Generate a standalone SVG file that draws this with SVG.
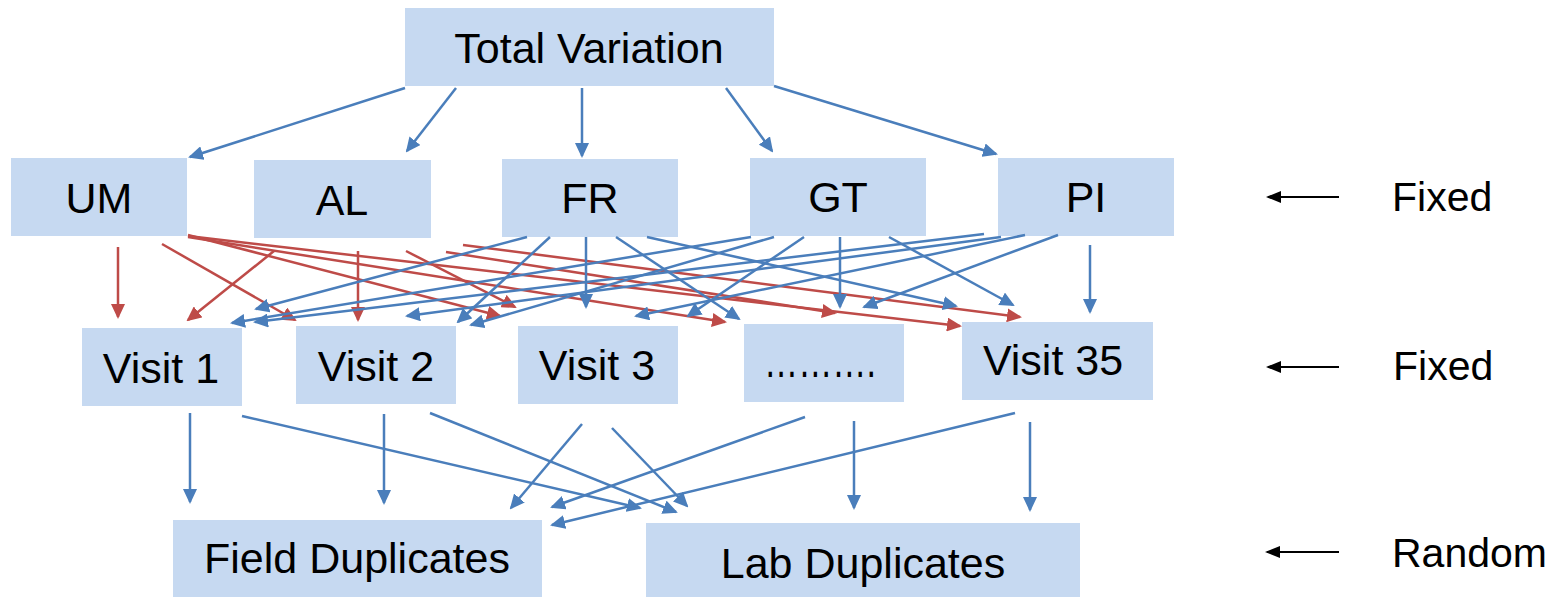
<svg xmlns="http://www.w3.org/2000/svg" width="1564" height="597" viewBox="0 0 1564 597">
  <defs>
    <style>
      .box { fill: #C6D9F1; }
      .lbl { font-family: "Liberation Sans", Arial, sans-serif; font-size: 43px; fill: #000; text-anchor: middle; }
      .dots { font-size: 50px; }
      .side { font-family: "Liberation Sans", Arial, sans-serif; font-size: 41px; fill: #000; }
      .blue { stroke: #4A7EBB; stroke-width: 2.5; fill: none; marker-end: url(#headBlue); }
      .red { stroke: #BE4B48; stroke-width: 2.5; fill: none; marker-end: url(#headRed); }
      .black { stroke: #000; stroke-width: 2; fill: none; marker-end: url(#headBlack); }
    </style>
    <marker id="headBlue" markerUnits="userSpaceOnUse" viewBox="0 0 15 14" markerWidth="15" markerHeight="14" refX="13" refY="7" orient="auto">
      <path d="M0,0 L15,7 L0,14 z" fill="#4A7EBB"/>
    </marker>
    <marker id="headRed" markerUnits="userSpaceOnUse" viewBox="0 0 15 14" markerWidth="15" markerHeight="14" refX="13" refY="7" orient="auto">
      <path d="M0,0 L15,7 L0,14 z" fill="#BE4B48"/>
    </marker>
    <marker id="headBlack" markerUnits="userSpaceOnUse" viewBox="0 0 15 12" markerWidth="15" markerHeight="12" refX="13" refY="6" orient="auto">
      <path d="M0,0 L15,6 L0,12 z" fill="#000"/>
    </marker>
  </defs>

  <rect width="1564" height="597" fill="#FFFFFF"/>

  <!-- top level -->
  <g id="total-variation">
    <rect class="box" x="405" y="8" width="369" height="78"/>
    <text class="lbl" x="589" y="63">Total Variation</text>
  </g>

  <!-- factor level -->
  <g id="um">
    <rect class="box" x="11" y="158" width="176" height="78"/>
    <text class="lbl" x="99" y="213">UM</text>
  </g>
  <g id="al">
    <rect class="box" x="254" y="160" width="177" height="78"/>
    <text class="lbl" x="342" y="215">AL</text>
  </g>
  <g id="fr">
    <rect class="box" x="502" y="159" width="176" height="78"/>
    <text class="lbl" x="590" y="213">FR</text>
  </g>
  <g id="gt">
    <rect class="box" x="750" y="158" width="176" height="78"/>
    <text class="lbl" x="838" y="212">GT</text>
  </g>
  <g id="pi">
    <rect class="box" x="998" y="158" width="176" height="78"/>
    <text class="lbl" x="1086" y="212">PI</text>
  </g>

  <!-- visit level -->
  <g id="visit-1">
    <rect class="box" x="82" y="328" width="160" height="78"/>
    <text class="lbl" x="161" y="383">Visit 1</text>
  </g>
  <g id="visit-2">
    <rect class="box" x="296" y="326" width="160" height="78"/>
    <text class="lbl" x="376" y="381">Visit 2</text>
  </g>
  <g id="visit-3">
    <rect class="box" x="518" y="326" width="160" height="78"/>
    <text class="lbl" x="597" y="380">Visit 3</text>
  </g>
  <g id="visit-more">
    <rect class="box" x="744" y="324" width="160" height="78"/>
    <text class="lbl dots" x="820" y="377" textLength="112" lengthAdjust="spacingAndGlyphs">……….</text>
  </g>
  <g id="visit-35">
    <rect class="box" x="962" y="322" width="191" height="78"/>
    <text class="lbl" x="1053" y="375">Visit 35</text>
  </g>

  <!-- duplicate level -->
  <g id="field-duplicates">
    <rect class="box" x="173" y="520" width="369" height="78"/>
    <text class="lbl" x="357" y="573">Field Duplicates</text>
  </g>
  <g id="lab-duplicates">
    <rect class="box" x="646" y="523" width="434" height="75"/>
    <text class="lbl" x="863" y="578">Lab Duplicates</text>
  </g>

  <!-- effect type labels -->
  <g id="label-fixed-1">
    <text class="side" x="1392" y="211">Fixed</text>
  </g>
  <g id="label-fixed-2">
    <text class="side" x="1393" y="380">Fixed</text>
  </g>
  <g id="label-random">
    <text class="side" x="1392" y="567">Random</text>
  </g>

  <g id="connectors">
    <!-- total variation to factors -->
    <line class="blue" x1="405" y1="88" x2="190" y2="157"/>
    <line class="blue" x1="456" y1="88" x2="407" y2="151"/>
    <line class="blue" x1="582" y1="88" x2="582" y2="156"/>
    <line class="blue" x1="726" y1="88" x2="772" y2="151"/>
    <line class="blue" x1="774" y1="86" x2="996" y2="154"/>

    <!-- UM and AL to visits -->
    <line class="red" x1="118" y1="247" x2="118" y2="317"/>
    <line class="red" x1="162" y1="244" x2="295" y2="320"/>
    <line class="red" x1="188" y1="235" x2="500" y2="316"/>
    <line class="red" x1="188" y1="237" x2="725" y2="322"/>
    <line class="red" x1="188" y1="236" x2="960" y2="326"/>
    <line class="red" x1="274" y1="251" x2="188" y2="320"/>
    <line class="red" x1="358" y1="251" x2="358" y2="320"/>
    <line class="red" x1="406" y1="251" x2="515" y2="307"/>
    <line class="red" x1="446" y1="252" x2="835" y2="313"/>
    <line class="red" x1="463" y1="245" x2="1020" y2="317"/>

    <!-- FR to visits -->
    <line class="blue" x1="527" y1="237" x2="256" y2="309"/>
    <line class="blue" x1="550" y1="237" x2="458" y2="322"/>
    <line class="blue" x1="586" y1="237" x2="586" y2="307"/>
    <line class="blue" x1="616" y1="237" x2="739" y2="319"/>
    <line class="blue" x1="647" y1="237" x2="956" y2="306"/>

    <!-- GT to visits -->
    <line class="blue" x1="751" y1="237" x2="232" y2="323"/>
    <line class="blue" x1="774" y1="237" x2="471" y2="325"/>
    <line class="blue" x1="804" y1="237" x2="688" y2="316"/>
    <line class="blue" x1="840" y1="237" x2="840" y2="307"/>
    <line class="blue" x1="889" y1="237" x2="1013" y2="305"/>

    <!-- PI to visits -->
    <line class="blue" x1="984" y1="234" x2="255" y2="322"/>
    <line class="blue" x1="1001" y1="237" x2="407" y2="316"/>
    <line class="blue" x1="1025" y1="235" x2="636" y2="316"/>
    <line class="blue" x1="1058" y1="235" x2="864" y2="307"/>
    <line class="blue" x1="1090" y1="245" x2="1090" y2="312"/>

    <!-- visits to duplicates -->
    <line class="blue" x1="190" y1="413" x2="190" y2="502"/>
    <line class="blue" x1="242" y1="416" x2="640" y2="508"/>
    <line class="blue" x1="384" y1="414" x2="384" y2="503"/>
    <line class="blue" x1="430" y1="413" x2="676" y2="512"/>
    <line class="blue" x1="582" y1="424" x2="511" y2="508"/>
    <line class="blue" x1="612" y1="428" x2="687" y2="506"/>
    <line class="blue" x1="805" y1="417" x2="552" y2="507"/>
    <line class="blue" x1="854" y1="421" x2="854" y2="508"/>
    <line class="blue" x1="1015" y1="413" x2="552" y2="525"/>
    <line class="blue" x1="1030" y1="422" x2="1030" y2="510"/>

    <!-- effect type pointers -->
    <line class="black" x1="1339" y1="197" x2="1268" y2="197"/>
    <line class="black" x1="1339" y1="367" x2="1268" y2="367"/>
    <line class="black" x1="1339" y1="552" x2="1267" y2="552"/>
  </g>
</svg>
